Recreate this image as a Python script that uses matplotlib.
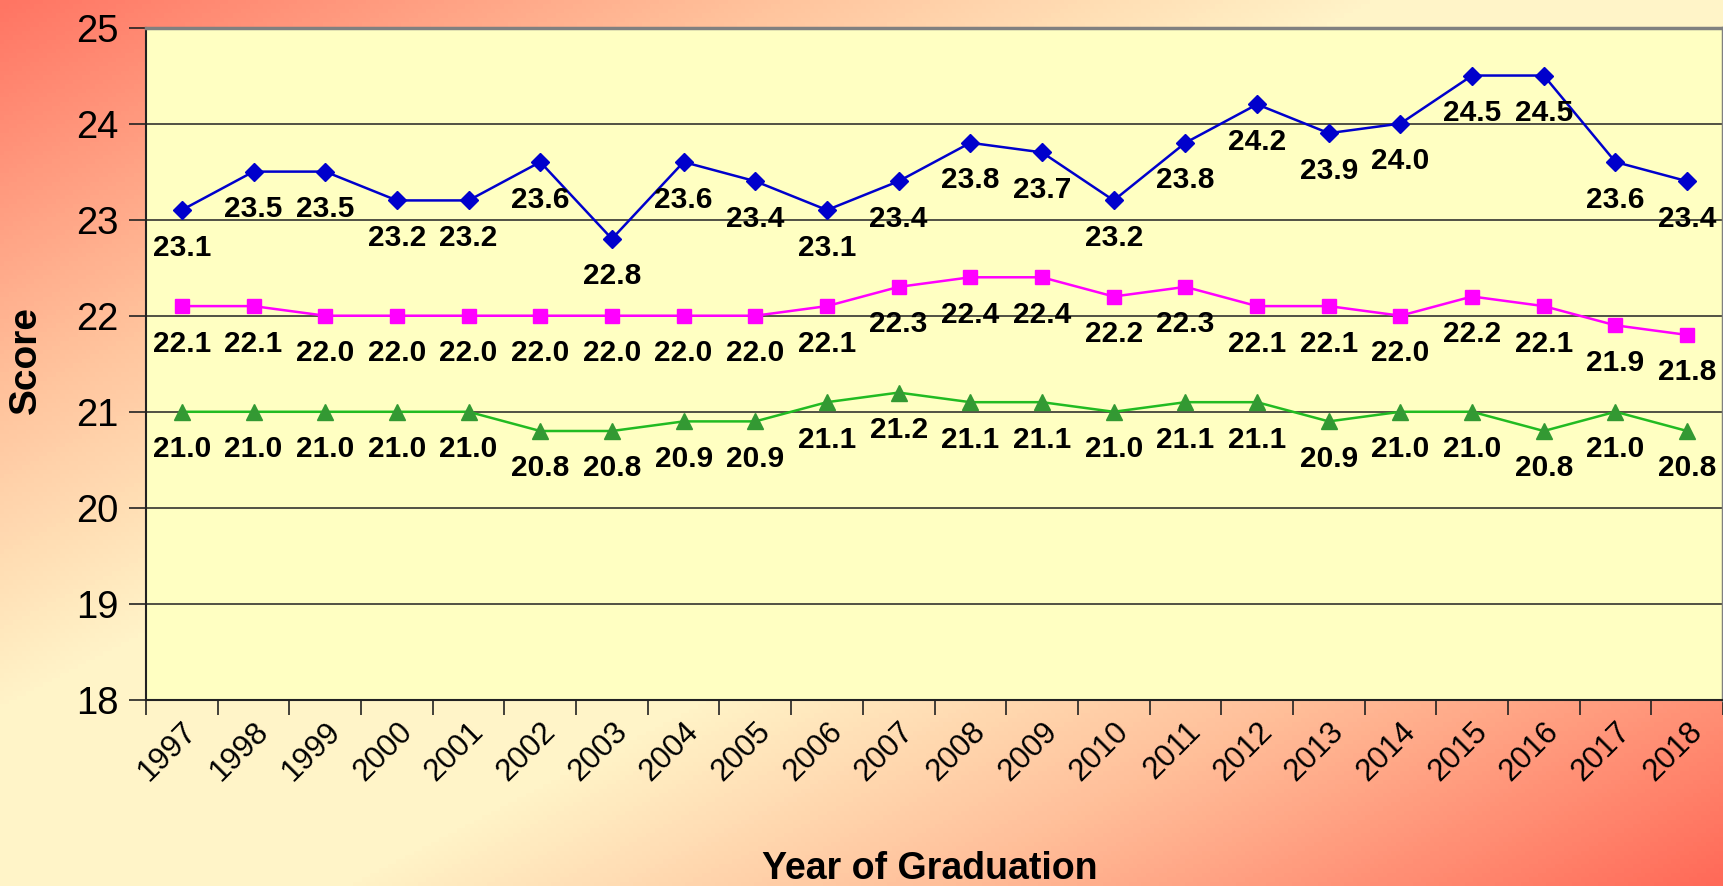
import matplotlib.pyplot as plt
import numpy as np
from matplotlib.colors import LinearSegmentedColormap

plt.rcParams['font.family'] = ['Liberation Sans', 'DejaVu Sans']

years = [str(y) for y in range(1997, 2019)]
school = [23.1, 23.5, 23.5, 23.2, 23.2, 23.6, 22.8, 23.6, 23.4, 23.1, 23.4,
          23.8, 23.7, 23.2, 23.8, 24.2, 23.9, 24.0, 24.5, 24.5, 23.6, 23.4]
state = [22.1, 22.1, 22.0, 22.0, 22.0, 22.0, 22.0, 22.0, 22.0, 22.1, 22.3,
         22.4, 22.4, 22.2, 22.3, 22.1, 22.1, 22.0, 22.2, 22.1, 21.9, 21.8]
nation = [21.0, 21.0, 21.0, 21.0, 21.0, 20.8, 20.8, 20.9, 20.9, 21.1, 21.2,
          21.1, 21.1, 21.0, 21.1, 21.1, 20.9, 21.0, 21.0, 20.8, 21.0, 20.8]
y_ticks = [18, 19, 20, 21, 22, 23, 24, 25]

W, H = 1723, 886
fig = plt.figure(figsize=(W / 100, H / 100), dpi=100)

# diagonal background gradient: salmon corners, cream band in the middle
bg = fig.add_axes([0, 0, 1, 1], zorder=-5)
u = np.linspace(0, 1, 400)
v = np.linspace(0, 1, 200)
U, V = np.meshgrid(u, v)
t = (U + V) / 2
cmap = LinearSegmentedColormap.from_list('bg', [
    (0.0, '#ff7563'), (0.22, '#ffc29c'), (0.40, '#fff4c8'),
    (0.60, '#fff4c8'), (0.78, '#ffbd98'), (1.0, '#ff6a58')])
bg.imshow(t, cmap=cmap, extent=[0, 1, 0, 1], aspect='auto', origin='upper',
          vmin=0, vmax=1)
bg.axis('off')

ax = fig.add_axes([146 / W, 1 - 700 / H, 1 - 146 / W, (700 - 27.5) / H])
ax.set_facecolor('#ffffc2')

x = np.arange(len(years))
ax.plot(x, school, color='#0000cc', lw=1.8, marker='D', ms=9, zorder=4)
ax.plot(x, state, color='#ff00ff', lw=1.8, marker='s', ms=10, zorder=4)
ax.plot(x, nation, color='#22bb22', lw=1.8, marker='^', ms=11,
        mfc='#339933', mec='#339933', zorder=4)

for series in (school, state, nation):
    for xi, val in zip(x, series):
        ax.annotate(f'{val:.1f}', (xi, val), xytext=(0, -27),
                    textcoords='offset points', ha='center', va='center',
                    fontsize=21.5, fontweight='bold', zorder=5)

ax.set_xlim(-0.5, len(years) - 0.5)
ax.set_ylim(18, 25)
ax.set_yticks(y_ticks)
ax.set_yticklabels([str(v) for v in y_ticks], fontsize=27.5)
ax.yaxis.grid(True, color='#222222', lw=1.1)
ax.set_axisbelow(True)

ax.set_xticks(x)
ax.set_xticklabels(years, fontsize=22.5, rotation=45, ha='right',
                   rotation_mode='anchor')
ax.set_xticks(np.arange(-0.5, len(years)), minor=True)
ax.tick_params(axis='x', which='major', length=0, pad=12)
ax.tick_params(axis='x', which='minor', length=11, width=1.2, color='#222222')
ax.tick_params(axis='y', length=12, width=1.2, color='#222222', pad=8)

for side in ('left', 'bottom'):
    ax.spines[side].set_color('#222222')
    ax.spines[side].set_linewidth(1.5)
for side in ('top', 'right'):
    ax.spines[side].set_color('#808080')
    ax.spines[side].set_linewidth(2.5)

fig.text(26 / W, 1 - 360 / H, 'Score', rotation=90, ha='center', va='center',
         fontsize=28, fontweight='bold')
fig.text(930 / W, 1 - 869 / H, 'Year of Graduation', ha='center', va='center',
         fontsize=27, fontweight='bold')

fig.savefig('out.png', dpi=100)
